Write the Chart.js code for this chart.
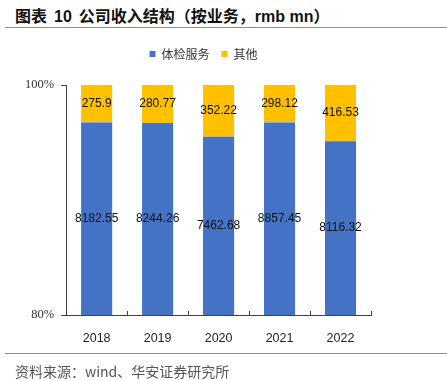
<!DOCTYPE html>
<html>
<head>
<meta charset="utf-8">
<script src="https://cdn.jsdelivr.net/npm/chart.js@4/dist/chart.umd.min.js"></script>
<style>
	html, body { margin: 0; padding: 0; background: #fff; }
	#wrap { position: relative; width: 447px; height: 381px; overflow: hidden; }
	#chart { position: absolute; left: 0; top: 0; }
	.title {
		position: absolute; left: 15px; top: 3px; white-space: nowrap;
		font: bold 16px "Liberation Sans", "Noto Sans CJK SC", sans-serif; color: #111;
	}
	.title .gap { display: inline-block; width: 7px; }
	.rule { position: absolute; left: 5px; right: 0; height: 0; border-top: 1.5px solid #8c8c8c; }
	.source {
		position: absolute; left: 15px; top: 361px; white-space: nowrap;
		font: 14px "Noto Sans CJK SC", sans-serif; color: #555;
	}
</style>
</head>
<body>
<div id="wrap">
	<div class="title">图表<span class="gap"></span>10<span class="gap"></span>公司收入结构（按业务，rmb mn）</div>
	<div class="rule" style="top:27px"></div>
	<canvas id="chart" width="447" height="381"></canvas>
	<div class="rule" style="top:353px"></div>
	<div class="source">资料来源：wind、华安证券研究所</div>
</div>
<script>
	// Revenue by business line, rmb mn
	const years = ['2018', '2019', '2020', '2021', '2022'];
	const examServices = [8182.55, 8244.26, 7462.68, 8857.45, 8116.32];
	const others = [275.9, 280.77, 352.22, 298.12, 416.53];
	const yTicks = [80, 100];

	// 100% stacked: each segment as share of the year's total
	const totals = years.map((_, i) => examServices[i] + others[i]);
	const share = (arr) => arr.map((v, i) => (v / totals[i]) * 100);

	const axisColor = '#404040';

	// Value labels centred in the visible part of each segment
	const valueLabels = {
		id: 'valueLabels',
		afterDatasetsDraw(chart) {
			const {ctx, chartArea} = chart;
			ctx.save();
			ctx.font = '12px "Liberation Sans", Arial, sans-serif';
			ctx.fillStyle = '#111';
			ctx.textAlign = 'center';
			ctx.textBaseline = 'middle';
			chart.data.datasets.forEach((ds, di) => {
				chart.getDatasetMeta(di).data.forEach((bar, i) => {
					const top = Math.max(Math.min(bar.y, bar.base), chartArea.top);
					const bottom = Math.min(Math.max(bar.y, bar.base), chartArea.bottom);
					ctx.fillText(String(ds.raw[i]), bar.x, (top + bottom) / 2);
				});
			});
			ctx.restore();
		},
	};

	// Category separators on the x axis point up into the plot
	const innerTicks = {
		id: 'innerTicks',
		afterDraw(chart) {
			const {ctx, chartArea, scales: {x}} = chart;
			const half = (x.getPixelForValue(1) - x.getPixelForValue(0)) / 2;
			ctx.save();
			ctx.strokeStyle = axisColor;
			ctx.lineWidth = 1;
			ctx.beginPath();
			for (let i = 0; i <= years.length; i++) {
				const px = Math.round(x.getPixelForValue(0) - half + i * half * 2) + 0.5;
				ctx.moveTo(px, chartArea.bottom);
				ctx.lineTo(px, chartArea.bottom - 4);
			}
			ctx.stroke();
			ctx.restore();
		},
	};

	// Taller legend box so the plot starts lower, nudged right a little
	const legendBox = {
		id: 'legendBox',
		beforeLayout(chart) {
			const legend = chart.legend;
			if (!legend || legend._tall) return;
			const fit = legend.fit;
			legend.fit = function () {
				fit.call(this);
				this.height = 49;
			};
			legend._tall = true;
		},
		afterLayout(chart) {
			chart.legend.left += 9;
			chart.legend.right += 9;
		},
	};

	new Chart(document.querySelector('#chart'), {
		type: 'bar',
		data: {
			labels: years,
			datasets: [
				{
					label: '体检服务',
					data: share(examServices),
					raw: examServices,
					backgroundColor: '#4472C4',
					barPercentage: 0.51,
					categoryPercentage: 1,
				},
				{
					label: '其他',
					data: share(others),
					raw: others,
					backgroundColor: '#FFC000',
					barPercentage: 0.51,
					categoryPercentage: 1,
				},
			],
		},
		options: {
			responsive: false,
			animation: false,
			layout: {padding: {left: 18, right: 76, top: 36, bottom: 36}},
			plugins: {
				legend: {
					position: 'top',
					labels: {
						boxWidth: 6,
						boxHeight: 6,
						padding: 12,
						color: '#333',
						font: {family: '"Noto Sans CJK SC", sans-serif', size: 12},
					},
				},
				tooltip: {enabled: false},
			},
			scales: {
				x: {
					stacked: true,
					afterFit: (scale) => { scale.height = 30; },
					grid: {display: false},
					border: {color: axisColor},
					ticks: {
						padding: 8,
						color: '#222',
						font: {family: '"Liberation Sans", Arial, sans-serif', size: 12.5},
					},
				},
				y: {
					stacked: true,
					min: yTicks[0],
					max: yTicks[yTicks.length - 1],
					afterBuildTicks: (scale) => { scale.ticks = yTicks.map((value) => ({value})); },
					grid: {drawOnChartArea: false, tickLength: 5, color: axisColor},
					border: {color: axisColor},
					ticks: {
						padding: 7,
						color: '#333',
						font: {family: '"Liberation Serif", "Times New Roman", serif', size: 12.5},
						callback: (value) => `${value}%`,
					},
				},
			},
		},
		plugins: [valueLabels, innerTicks, legendBox],
	});
</script>
</body>
</html>
